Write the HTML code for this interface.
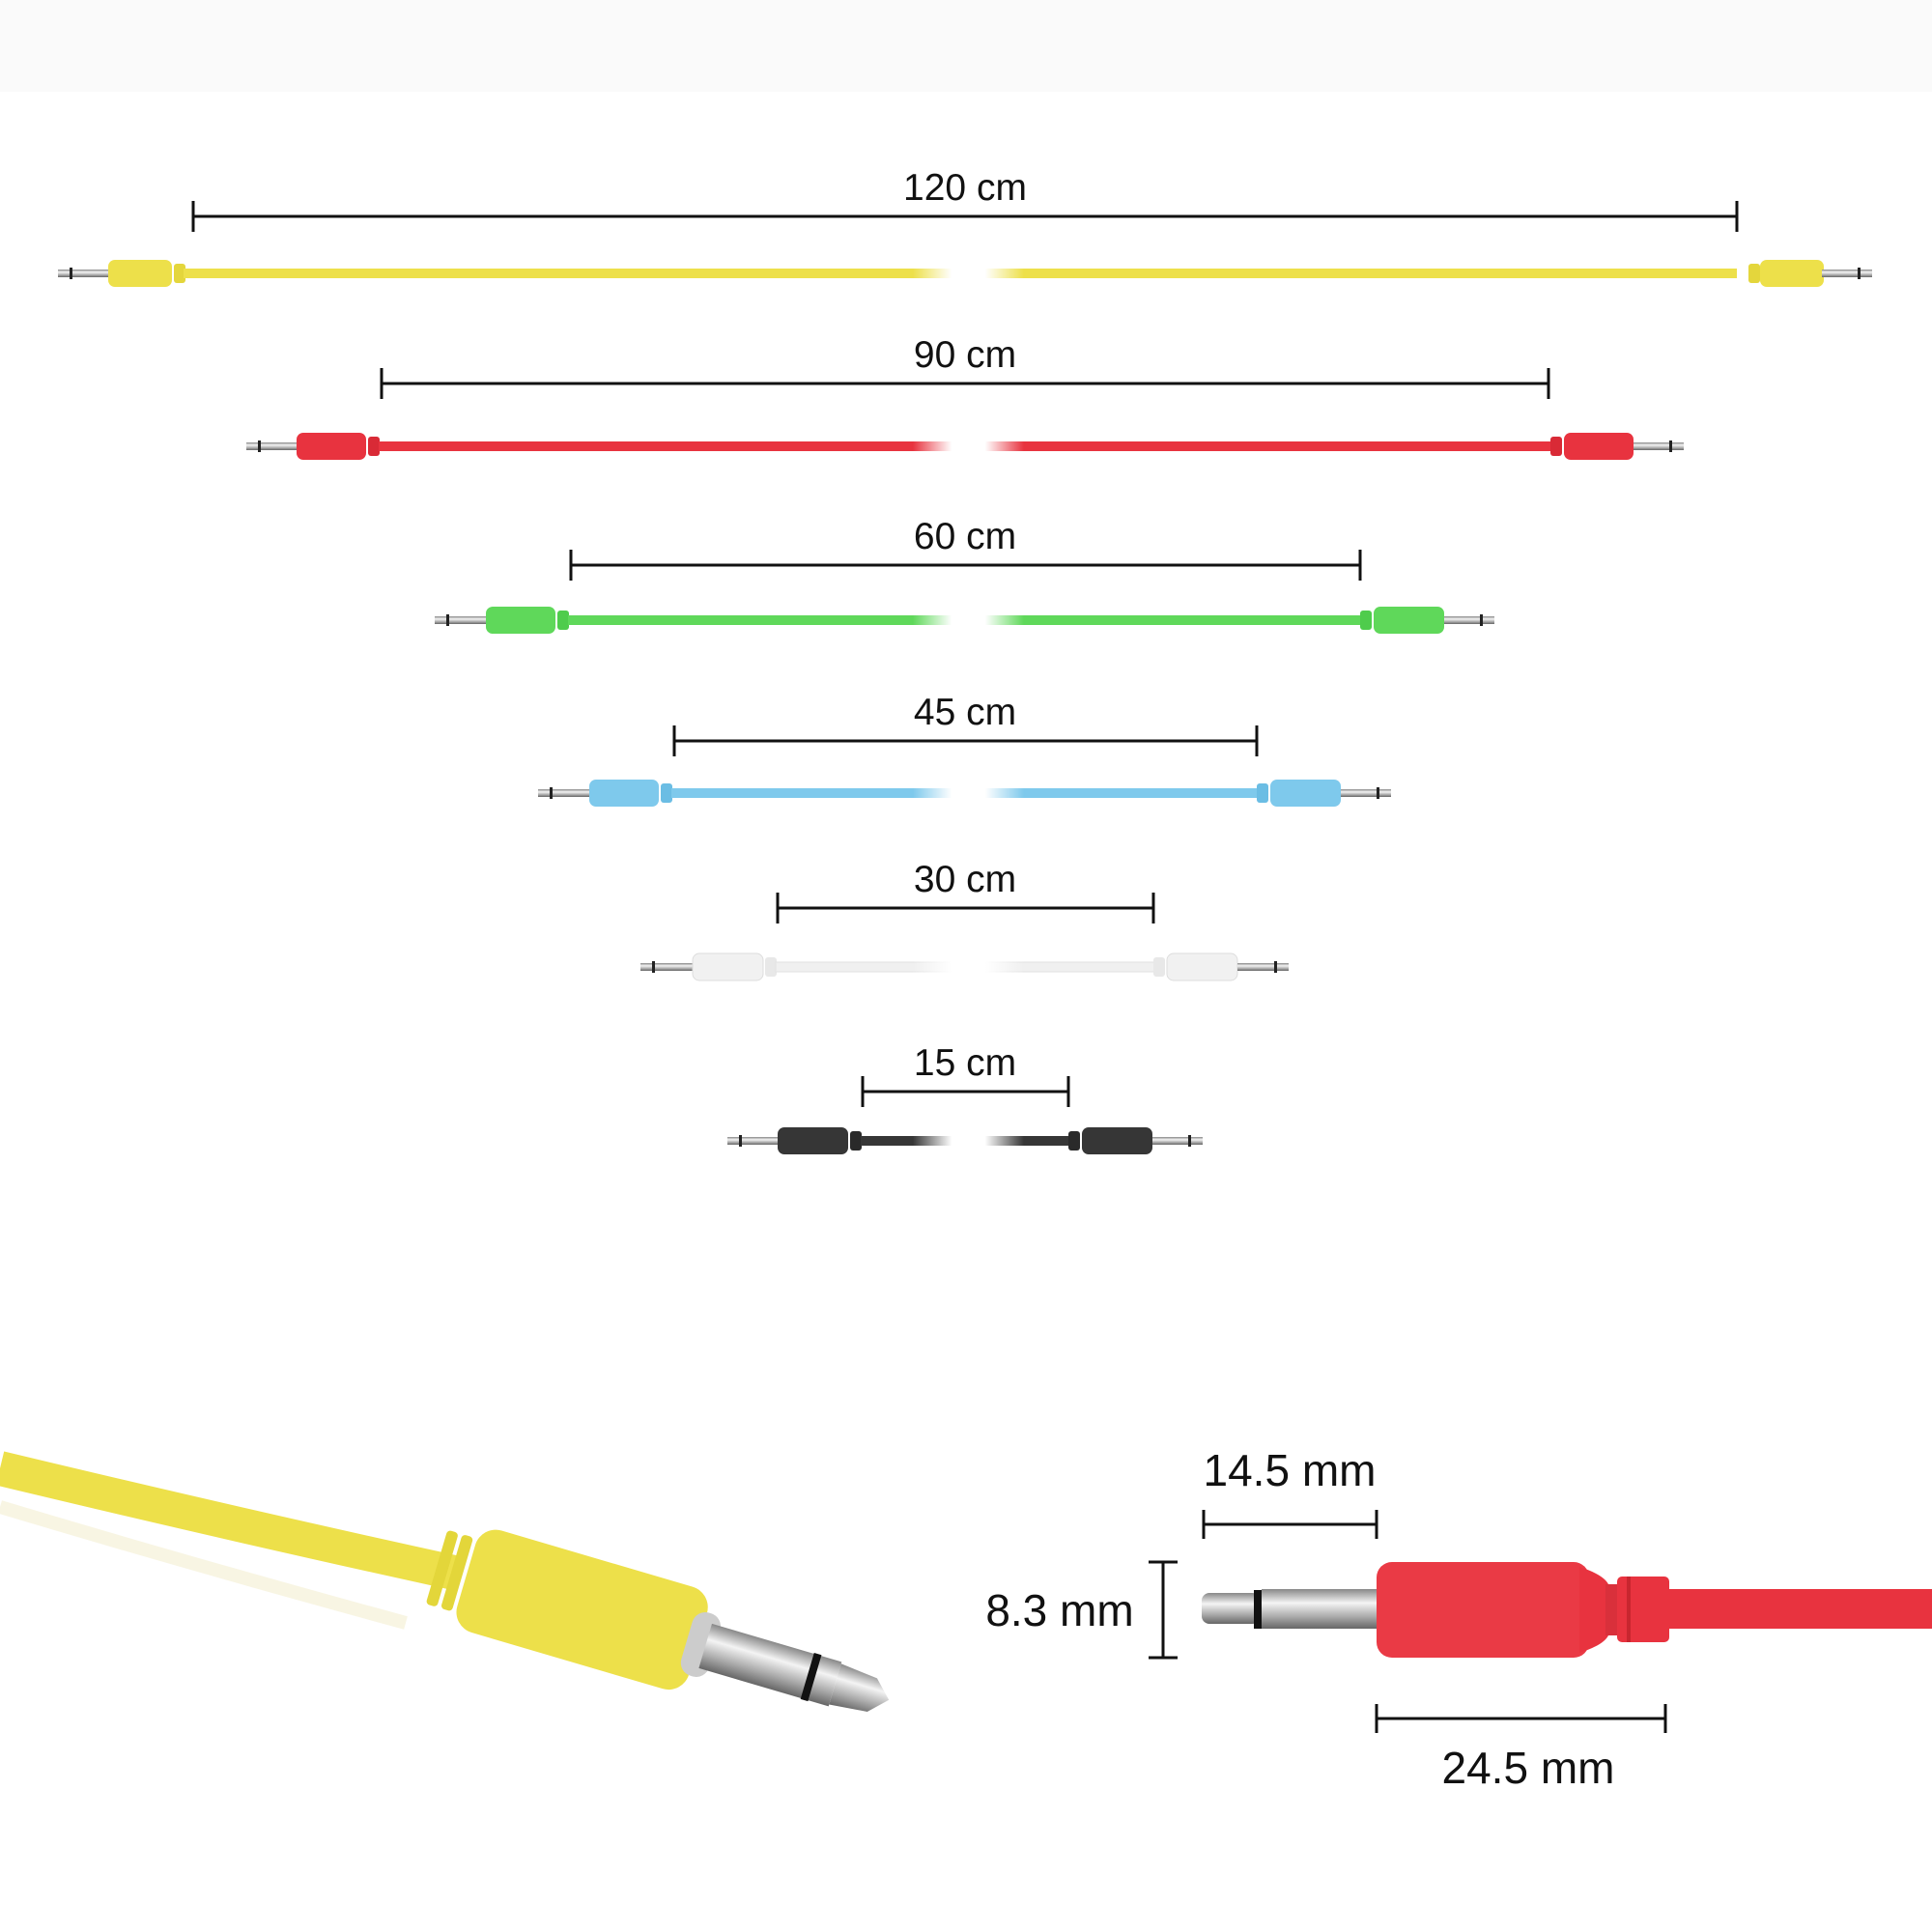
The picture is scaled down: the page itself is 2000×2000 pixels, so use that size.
<!DOCTYPE html>
<html><head><meta charset="utf-8"><style>
html,body{margin:0;padding:0;background:#fff}
svg{display:block}
text{font-family:"Liberation Sans",sans-serif;fill:#111}
</style></head><body>
<svg width="2000" height="2000" viewBox="0 0 2000 2000" xmlns="http://www.w3.org/2000/svg">
<defs>
<linearGradient id="met" x1="0" y1="0" x2="0" y2="1">
<stop offset="0" stop-color="#888"/><stop offset="0.35" stop-color="#f4f4f4"/><stop offset="0.7" stop-color="#aaa"/><stop offset="1" stop-color="#666"/>
</linearGradient>
<linearGradient id="fade" x1="0" y1="0" x2="1" y2="0">
<stop offset="0" stop-color="#fff" stop-opacity="0"/><stop offset="0.35" stop-color="#fff"/><stop offset="0.65" stop-color="#fff"/><stop offset="1" stop-color="#fff" stop-opacity="0"/>
</linearGradient>
</defs>
<rect width="2000" height="2000" fill="#fff"/>
<rect width="2000" height="95" fill="#fafafa"/>

<g id="cables" stroke-width="0">
<!-- generic cable drawing: yellow -->
<g>
<rect x="60" y="279" width="52" height="8" fill="url(#met)"/><rect x="72" y="277" width="3" height="12" fill="#222"/>
<rect x="112" y="269" width="66" height="28" rx="7" fill="#ede04a"/><rect x="180" y="273" width="12" height="20" rx="3" fill="#e4d63c"/>
<rect x="190" y="278" width="1608" height="10" fill="#ede04a"/>
<rect x="1810" y="273" width="12" height="20" rx="3" fill="#e4d63c"/><rect x="1822" y="269" width="66" height="28" rx="7" fill="#ede04a"/>
<rect x="1886" y="279" width="52" height="8" fill="url(#met)"/><rect x="1923" y="277" width="3" height="12" fill="#222"/>
</g>
<g>
<rect x="255" y="458" width="52" height="8" fill="url(#met)"/><rect x="267" y="456" width="3" height="12" fill="#222"/>
<rect x="307" y="448" width="72" height="28" rx="7" fill="#e8333f"/><rect x="381" y="452" width="12" height="20" rx="3" fill="#d92a36"/>
<rect x="392" y="457" width="1214" height="10" fill="#e8333f"/>
<rect x="1605" y="452" width="12" height="20" rx="3" fill="#d92a36"/><rect x="1619" y="448" width="72" height="28" rx="7" fill="#e8333f"/>
<rect x="1691" y="458" width="52" height="8" fill="url(#met)"/><rect x="1728" y="456" width="3" height="12" fill="#222"/>
</g>
<g>
<rect x="450" y="638" width="53" height="8" fill="url(#met)"/><rect x="462" y="636" width="3" height="12" fill="#222"/>
<rect x="503" y="628" width="72" height="28" rx="7" fill="#5fd85a"/><rect x="577" y="632" width="12" height="20" rx="3" fill="#4fcc4c"/>
<rect x="588" y="637" width="822" height="10" fill="#5fd85a"/>
<rect x="1408" y="632" width="12" height="20" rx="3" fill="#4fcc4c"/><rect x="1422" y="628" width="73" height="28" rx="7" fill="#5fd85a"/>
<rect x="1495" y="638" width="52" height="8" fill="url(#met)"/><rect x="1532" y="636" width="3" height="12" fill="#222"/>
</g>
<g>
<rect x="557" y="817" width="53" height="8" fill="url(#met)"/><rect x="569" y="815" width="3" height="12" fill="#222"/>
<rect x="610" y="807" width="72" height="28" rx="7" fill="#7ec9ec"/><rect x="684" y="811" width="12" height="20" rx="3" fill="#6bbde4"/>
<rect x="695" y="816" width="608" height="10" fill="#7ec9ec"/>
<rect x="1301" y="811" width="12" height="20" rx="3" fill="#6bbde4"/><rect x="1315" y="807" width="73" height="28" rx="7" fill="#7ec9ec"/>
<rect x="1388" y="817" width="52" height="8" fill="url(#met)"/><rect x="1425" y="815" width="3" height="12" fill="#222"/>
</g>
<g>
<rect x="663" y="997" width="54" height="8" fill="url(#met)"/><rect x="675" y="995" width="3" height="12" fill="#222"/>
<rect x="717" y="987" width="73" height="28" rx="7" fill="#f1f1f1" stroke="#ddd" stroke-width="1"/><rect x="792" y="991" width="12" height="20" rx="3" fill="#e8e8e8"/>
<rect x="803" y="996" width="393" height="10" fill="#f0f0f0" stroke="#e2e2e2" stroke-width="1"/>
<rect x="1194" y="991" width="12" height="20" rx="3" fill="#e8e8e8"/><rect x="1208" y="987" width="73" height="28" rx="7" fill="#f1f1f1" stroke="#ddd" stroke-width="1"/>
<rect x="1281" y="997" width="53" height="8" fill="url(#met)"/><rect x="1319" y="995" width="3" height="12" fill="#222"/>
</g>
<g>
<rect x="753" y="1177" width="52" height="8" fill="url(#met)"/><rect x="765" y="1175" width="3" height="12" fill="#222"/>
<rect x="805" y="1167" width="73" height="28" rx="7" fill="#363636"/><rect x="880" y="1171" width="12" height="20" rx="3" fill="#2a2a2a"/>
<rect x="891" y="1176" width="217" height="10" fill="#363636"/>
<rect x="1106" y="1171" width="12" height="20" rx="3" fill="#2a2a2a"/><rect x="1120" y="1167" width="73" height="28" rx="7" fill="#363636"/>
<rect x="1193" y="1177" width="52" height="8" fill="url(#met)"/><rect x="1230" y="1175" width="3" height="12" fill="#222"/>
</g>
<rect x="945" y="250" width="115" height="960" fill="url(#fade)"/>
</g>

<g stroke="#111" stroke-width="3" fill="none">
<path d="M200 224H1798M200 208V240M1798 208V240"/>
<path d="M395 397H1603M395 381V413M1603 381V413"/>
<path d="M591 585H1408M591 569V601M1408 569V601"/>
<path d="M698 767H1301M698 751V783M1301 751V783"/>
<path d="M805 940H1194M805 924V956M1194 924V956"/>
<path d="M893 1130H1106M893 1114V1146M1106 1114V1146"/>
</g>
<g font-size="39" text-anchor="middle">
<text x="999" y="207">120 cm</text>
<text x="999" y="380">90 cm</text>
<text x="999" y="568">60 cm</text>
<text x="999" y="750">45 cm</text>
<text x="999" y="923">30 cm</text>
<text x="999" y="1113">15 cm</text>
</g>

<!-- yellow angled plug -->
<path d="M0 1520 Q250 1580 470 1628" stroke="#ede04a" stroke-width="36" fill="none"/>
<path d="M0 1560 Q200 1620 420 1680" stroke="#f3efd0" stroke-width="14" fill="none" opacity="0.6"/>
<g transform="translate(452,1622) rotate(16.4)">
<rect x="0" y="-40" width="12" height="80" rx="4" fill="#e3d63a"/>
<rect x="16" y="-40" width="12" height="80" rx="4" fill="#e3d63a"/>
<rect x="32" y="-55" width="250" height="110" rx="22" fill="#ede04a"/>
<rect x="270" y="-34" width="30" height="68" rx="14" fill="#ccc"/>
<rect x="290" y="-24" width="140" height="48" fill="url(#met)"/>
<rect x="400" y="-25" width="8" height="50" fill="#111"/>
<path d="M430 -22 L470 -18 L488 0 L470 18 L430 22Z" fill="url(#met)"/>
</g>

<!-- red detail plug -->
<rect x="1244" y="1649" width="60" height="32" rx="8" fill="url(#met)"/>
<rect x="1298" y="1646" width="8" height="40" fill="#111"/>
<rect x="1306" y="1645" width="120" height="41" fill="url(#met)"/>
<rect x="1728" y="1645" width="272" height="41" fill="#e8333f"/>
<rect x="1425" y="1617" width="220" height="99" rx="16" fill="#ea3a45"/>
<path d="M1635 1622 Q1660 1630 1665 1640 V1693 Q1660 1703 1635 1711Z" fill="#e8333f"/>
<rect x="1662" y="1640" width="12" height="53" fill="#d9303b"/>
<rect x="1674" y="1632" width="54" height="68" rx="5" fill="#e8333f"/>
<rect x="1684" y="1632" width="4" height="68" fill="#c8262f"/>
<g stroke="#111" stroke-width="3" fill="none">
<path d="M1246 1578H1425M1246 1563V1593M1425 1563V1593"/>
<path d="M1204 1617V1716M1189 1617H1219M1189 1716H1219"/>
<path d="M1425 1779H1724M1425 1764V1794M1724 1764V1794"/>
</g>
<g font-size="46" text-anchor="middle">
<text x="1335" y="1538">14.5 mm</text>
<text x="1097" y="1683">8.3 mm</text>
<text x="1582" y="1846">24.5 mm</text>
</g>
</svg>
</body></html>
